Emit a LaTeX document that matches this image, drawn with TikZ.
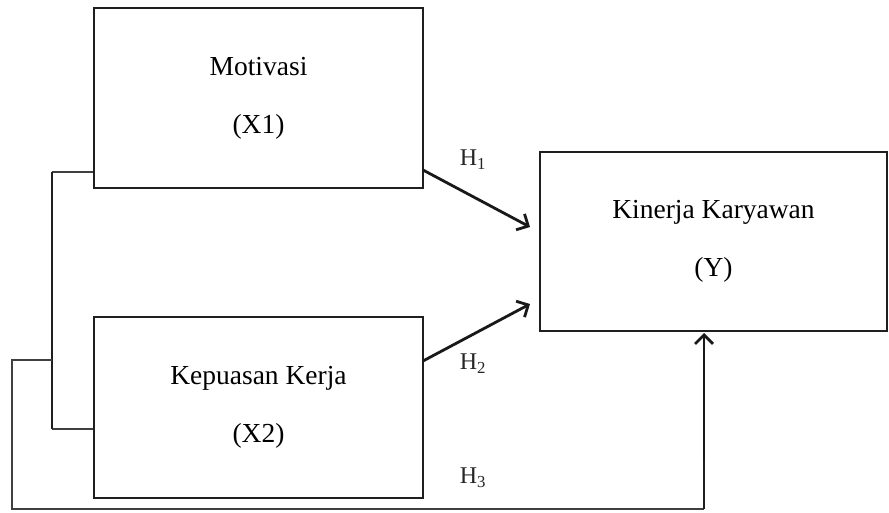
\documentclass[tikz,border=0pt]{standalone}
\usepackage{fontspec}
\setmainfont{Liberation Serif}
\usetikzlibrary{arrows.meta}
\begin{document}
\begin{tikzpicture}[x=1pt,y=-1pt,
  varbox/.style={draw=black!88, line width=2.5pt, rectangle, inner sep=0pt, align=center,
     font=\fontsize{27.5}{58}\selectfont},
  thinline/.style={draw=black!75, line width=1.1pt},
  thickline/.style={draw=black!88, line width=2.5pt},
  hyparrow/.style={draw=black!90, line width=2.8pt, -{Straight Barb[length=9pt,width=18pt,line width=2.8pt]}},
  hlabel/.style={font=\fontsize{24}{26}\selectfont, text=black!85, inner sep=0pt}
]
\useasboundingbox (0,0) rectangle (889,512);
\fill[white] (0,0) rectangle (889,512);

\node[varbox, minimum width=329pt, minimum height=180pt] (X1) at (258.5,98) {Motivasi\\(X1)};
\node[varbox, minimum width=329pt, minimum height=181pt] (X2) at (258.5,407.5) {Kepuasan Kerja\\(X2)};
\node[varbox, minimum width=347pt, minimum height=179pt] (Y) at (713.5,241.5) {Kinerja Karyawan\\(Y)};

% hypothesis arrows
\coordinate (h1s) at (423,170);
\coordinate (h1e) at (530,227);
\coordinate (h2s) at (423,361);
\coordinate (h2e) at (530,304);
\draw[hyparrow] (h1s) -- (h1e);
\draw[hyparrow] (h2s) -- (h2e);

% left bracket
\coordinate (b1) at (52,172);
\coordinate (b2) at (52,429);
\coordinate (bm) at (52,360);
\coordinate (o1) at (12,360);
\coordinate (o2) at (12,509);
\coordinate (o3) at (704,509);
\coordinate (o4) at (704,333);
\draw[thinline] (X1.west |- b1) -- (b1);
\draw[thinline] (X2.west |- b2) -- (b2);
\draw[thickline] (b1) -- (b2);
\draw[thinline] (bm) -- (o1) -- (o2) -- (o3);
\draw[thickline] (o3) -- (704,460);
\draw[hyparrow] (704,460) -- (o4);

% labels
\node[hlabel] (H1) at (473,160) {H\textsubscript{1}};
\node[hlabel] (H2) at (473,364) {H\textsubscript{2}};
\node[hlabel] (H3) at (473,478) {H\textsubscript{3}};
\end{tikzpicture}
\end{document}
